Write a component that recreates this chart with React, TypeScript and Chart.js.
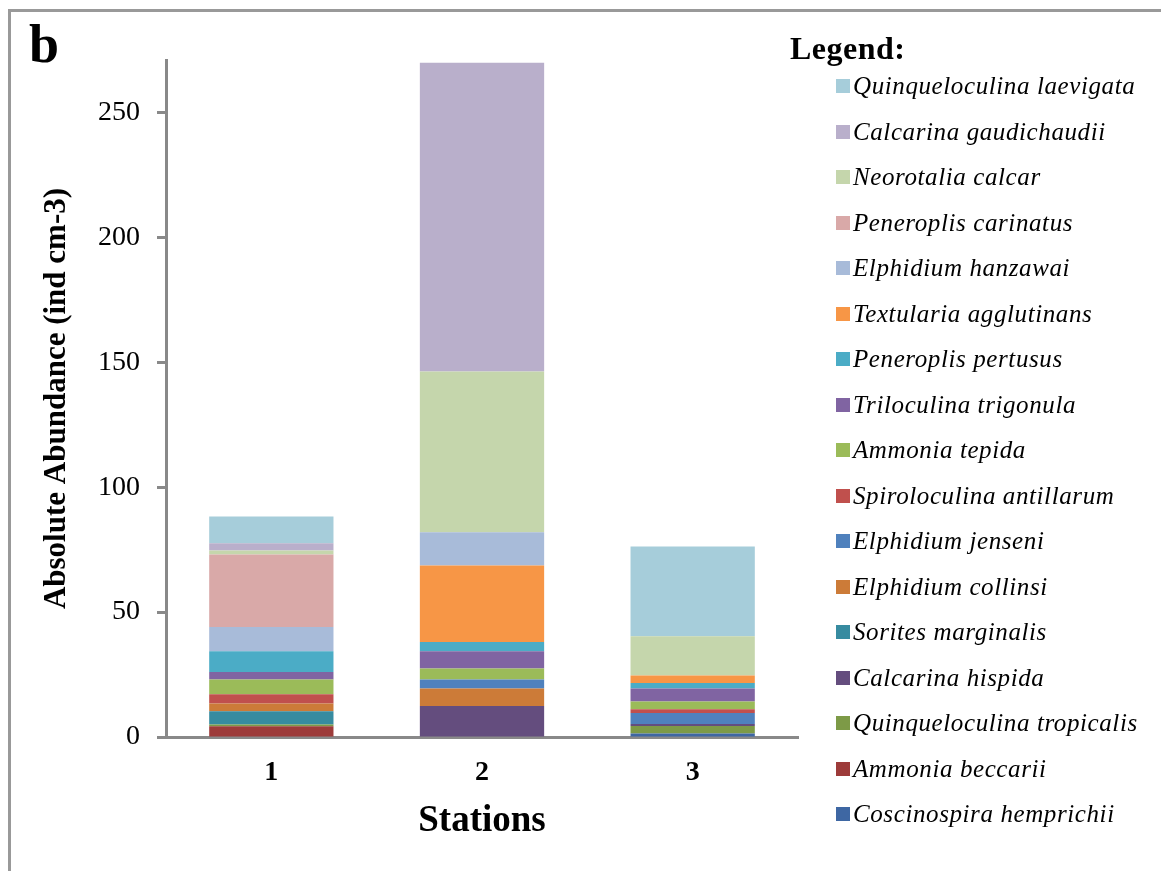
import React, { useEffect, useRef } from "react";
import { Chart, registerables } from "chart.js";

Chart.register(...registerables);

const FONT = '"Liberation Serif", "Times New Roman", serif';

// Categories
const stations = ["1", "2", "3"];

// Species listed from bottom of the stack to top
const speciesNames = [
  "Coscinospira hemprichii",
  "Ammonia beccarii",
  "Quinqueloculina tropicalis",
  "Calcarina hispida",
  "Sorites marginalis",
  "Elphidium collinsi",
  "Elphidium jenseni",
  "Spiroloculina antillarum",
  "Ammonia tepida",
  "Triloculina trigonula",
  "Peneroplis pertusus",
  "Textularia agglutinans",
  "Elphidium hanzawai",
  "Peneroplis carinatus",
  "Neorotalia calcar",
  "Calcarina gaudichaudii",
  "Quinqueloculina laevigata",
];

const speciesColors = [
  "#3E67A3",
  "#9D3B3A",
  "#7D9A47",
  "#644D7E",
  "#378BA0",
  "#CC7B38",
  "#4F81BD",
  "#C0504D",
  "#9BBB59",
  "#8064A2",
  "#4BACC6",
  "#F79646",
  "#A8BBD9",
  "#D9A9A8",
  "#C5D6AC",
  "#B9AFCB",
  "#A6CDDA",
];

// Absolute abundance (ind cm-3) per station 1, 2, 3
const coscinospiraHemprichii = [0, 0, 1.4];
const ammoniaBeccarii = [4.3, 0, 0];
const quinqueloculinaTropicalis = [0.7, 0, 3.0];
const calcarinaHispida = [0, 12.4, 0.8];
const soritesMarginalis = [5.3, 0, 0];
const elphidiumCollinsi = [3.1, 7.0, 0];
const elphidiumJenseni = [0, 3.6, 4.4];
const spiroloculinaAntillarum = [3.7, 0, 1.5];
const ammoniaTepida = [5.9, 4.4, 3.1];
const triloculinaTrigonula = [3.0, 6.9, 5.2];
const peneroplisPertusus = [8.3, 3.7, 2.2];
const textulariaAgglutinans = [0, 30.7, 3.0];
const elphidiumHanzawai = [9.7, 13.3, 0];
const peneroplisCarinatus = [29.1, 0, 0];
const neorotaliaCalcar = [1.6, 64.3, 15.7];
const calcarinaGaudichaudii = [2.9, 123.6, 0];
const quinqueloculinaLaevigata = [10.7, 0, 36.0];

const seriesValues = [
  coscinospiraHemprichii,
  ammoniaBeccarii,
  quinqueloculinaTropicalis,
  calcarinaHispida,
  soritesMarginalis,
  elphidiumCollinsi,
  elphidiumJenseni,
  spiroloculinaAntillarum,
  ammoniaTepida,
  triloculinaTrigonula,
  peneroplisPertusus,
  textulariaAgglutinans,
  elphidiumHanzawai,
  peneroplisCarinatus,
  neorotaliaCalcar,
  calcarinaGaudichaudii,
  quinqueloculinaLaevigata,
];

const yTickStep = 50;
const yMax = 271;

const AXIS_GRAY = "#898989";

export default function App() {
  const canvasRef = useRef<HTMLCanvasElement | null>(null);

  useEffect(() => {
    if (!canvasRef.current) return;
    const datasets = speciesNames.map((name, i) => ({
      label: name,
      data: seriesValues[i],
      backgroundColor: speciesColors[i],
      borderWidth: 0,
      barPercentage: 0.59,
      categoryPercentage: 1,
    }));
    const chart = new Chart(canvasRef.current, {
      type: "bar",
      data: { labels: stations, datasets },
      options: {
        animation: false,
        responsive: false,
        devicePixelRatio: 1,
        layout: { padding: { top: 52, right: 30, bottom: 0, left: 0 } },
        plugins: {
          legend: { display: false },
          tooltip: { enabled: false },
        },
        scales: {
          x: {
            stacked: true,
            grid: { display: false, drawTicks: false },
            border: { display: true, color: AXIS_GRAY, width: 3 },
            ticks: {
              color: "#000",
              font: { family: FONT, size: 28, weight: "bold" },
              padding: 19,
            },
            title: {
              display: true,
              text: "Stations",
              color: "#000",
              font: { family: FONT, size: 37, weight: "bold" },
              padding: { top: 0, bottom: 27 },
            },
            afterFit: (s: any) => {
              s.height = 134;
            },
          },
          y: {
            stacked: true,
            min: 0,
            max: yMax,
            grid: {
              drawOnChartArea: false,
              drawTicks: true,
              tickLength: 9,
              tickColor: AXIS_GRAY,
              tickWidth: 3,
            },
            border: { display: true, color: AXIS_GRAY, width: 3 },
            ticks: {
              stepSize: yTickStep,
              includeBounds: false,
              color: "#000",
              font: { family: FONT, size: 28 },
              padding: 17,
            },
            title: {
              display: true,
              text: "Absolute Abundance (ind cm-3)",
              color: "#000",
              font: { family: FONT, size: 31, weight: "bold" },
              padding: { top: 30, bottom: 0 },
            },
            afterFit: (s: any) => {
              s.width = 158;
            },
          },
        },
      } as any,
    });
    return () => chart.destroy();
  }, []);

  const legendOrder = speciesNames.map((n, i) => i).reverse();

  return (
    <div style={{ position: "relative", width: 1161, height: 863 }}>
      <div
        style={{
          position: "absolute",
          left: 0,
          top: 1,
          width: 1161,
          height: 862,
          borderLeft: "3px solid #999",
          borderTop: "3px solid #999",
          boxSizing: "border-box",
        }}
      />
      <div
        style={{
          position: "absolute",
          left: 21,
          top: 9,
          fontFamily: FONT,
          fontWeight: "bold",
          fontSize: 54,
          lineHeight: "54px",
          color: "#000",
        }}
      >
        b
      </div>
      <canvas
        ref={canvasRef}
        width={820}
        height={863}
        style={{ position: "absolute", left: 0, top: 0, width: 820, height: 863 }}
      />
      <div
        style={{
          position: "absolute",
          left: 782,
          top: 24,
          fontFamily: FONT,
          fontWeight: "bold",
          fontSize: 32,
          lineHeight: "32px",
          color: "#000",
          whiteSpace: "nowrap",
          letterSpacing: "0.5px",
        }}
      >
        Legend:
      </div>
      {legendOrder.map((idx, row) => (
        <div
          key={speciesNames[idx]}
          style={{
            position: "absolute",
            left: 828,
            top: 78 + row * 45.53 - 22.76,
            height: 45.53,
            display: "flex",
            alignItems: "center",
            whiteSpace: "nowrap",
          }}
        >
          <div
            style={{
              width: 14,
              height: 14,
              background: speciesColors[idx],
              marginRight: 3,
              flex: "0 0 auto",
            }}
          />
          <span
            style={{
              fontFamily: FONT,
              fontStyle: "italic",
              fontSize: 25,
              color: "#000",
              letterSpacing: "0.6px",
            }}
          >
            {speciesNames[idx]}
          </span>
        </div>
      ))}
    </div>
  );
}
